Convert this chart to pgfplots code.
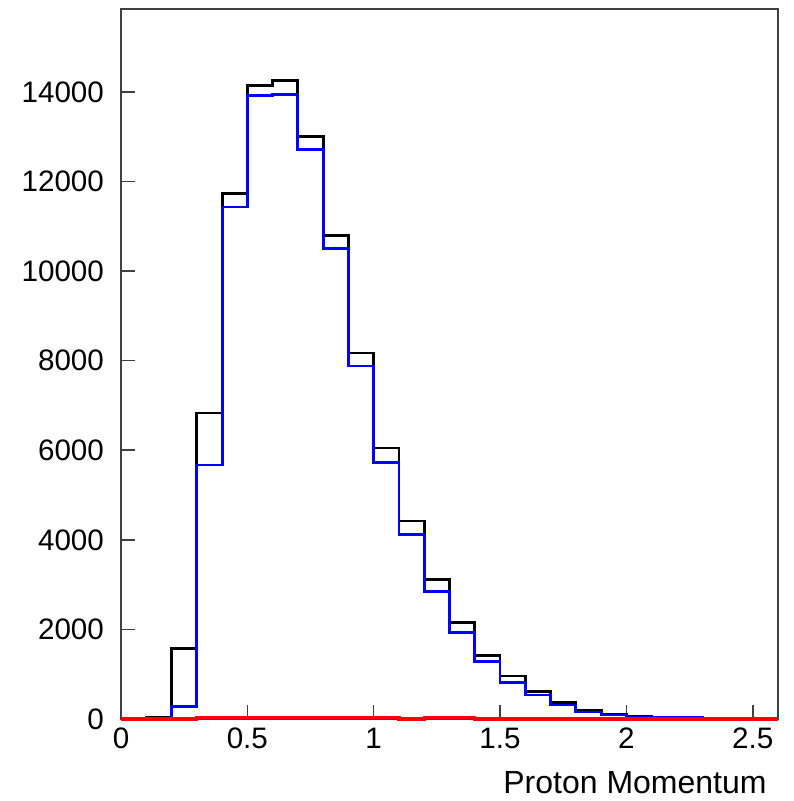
\documentclass[border=0pt]{standalone}
\usepackage{fontspec}
\setmainfont{Liberation Sans}
\usepackage{pgfplots}
\pgfplotsset{compat=1.18}

\begin{document}
\begin{tikzpicture}
\path[use as bounding box] (-60.5pt,-41pt) rectangle (336pt,359.5pt);
\begin{axis}[
  at={(0,0)}, anchor=south west,
  scale only axis,
  width=328.5pt, height=355pt,
  xmin=0, xmax=2.6,
  ymin=0, ymax=15850,
  xtick={0,0.5,1,1.5,2,2.5},
  xticklabels={0,0.5,1,1.5,2,2.5},
  ytick={0,2000,4000,6000,8000,10000,12000,14000},
  scaled y ticks=false,
  /pgf/number format/1000 sep={},
  /pgf/number format/assume math mode=true,
  ticklabel style={font=\fontsize{14.8}{17}\selectfont},
  yticklabel style={xshift=-5pt},
  xticklabel style={yshift=-1pt},
  tick align=inside,
  major tick length=7pt,
  xtick pos=bottom, ytick pos=left,
  tick style={black!75, line width=0.8pt},
  axis line style={black!75, line width=1pt},
  minor tick num=0,
  clip=false,
  xlabel={Proton Momentum},
  xlabel style={font=\fontsize{16}{19}\selectfont, at={(rel axis cs:1,0)},
    anchor=base east, inner sep=0pt, yshift=-37.5pt, xshift=-5.5pt},
]
% black histogram
\addplot[const plot, black, line width=1.45pt] coordinates {
  (0.0,0) (0.1,40) (0.2,1580) (0.3,6830) (0.4,11740) (0.5,14150)
  (0.6,14260) (0.7,13010) (0.8,10800) (0.9,8170) (1.0,6050)
  (1.1,4420) (1.2,3110) (1.3,2160) (1.4,1420) (1.5,960) (1.6,615)
  (1.7,370) (1.8,200) (1.9,100) (2.0,50) (2.1,10) (2.2,5) (2.3,0)
  (2.6,0)
};
% blue histogram
\addplot[const plot, blue, line width=1.45pt] coordinates {
  (0.0,0) (0.1,0) (0.2,270) (0.3,5670) (0.4,11430) (0.5,13920)
  (0.6,13950) (0.7,12710) (0.8,10500) (0.9,7880) (1.0,5720)
  (1.1,4110) (1.2,2840) (1.3,1930) (1.4,1290) (1.5,810) (1.6,536)
  (1.7,312) (1.8,156) (1.9,90) (2.0,38) (2.1,30) (2.2,25) (2.3,0)
  (2.6,0)
};
% red histogram
\addplot[const plot, red, line width=1.6pt] coordinates {
  (0.0,0) (0.1,0) (0.2,0) (0.3,30) (0.4,30) (0.5,30) (0.6,30)
  (0.7,30) (0.8,30) (0.9,30) (1.0,30) (1.1,0) (1.2,30) (1.3,30)
  (1.4,0) (1.5,0) (2.6,0)
};
\end{axis}
\end{tikzpicture}
\end{document}
